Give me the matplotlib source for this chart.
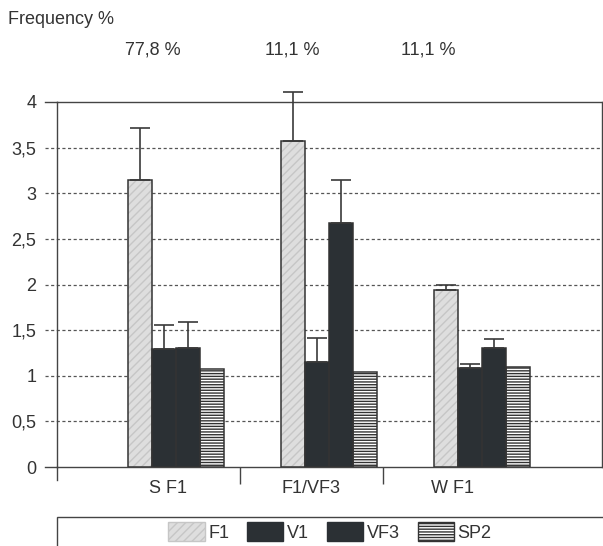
import numpy as np
import matplotlib
matplotlib.use("Agg")
import matplotlib.pyplot as plt
from matplotlib.patches import Patch, Rectangle
from matplotlib.transforms import blended_transform_factory

plt.rcParams["font.family"] = ["Liberation Sans", "DejaVu Sans"]

groups = ["S F1", "F1/VF3", "W F1"]
group_pct = ["77,8 %", "11,1 %", "11,1 %"]
series = ["F1", "V1", "VF3", "SP2"]
means = {
    "F1": [3.15, 3.57, 1.94],
    "V1": [1.29, 1.15, 1.09],
    "VF3": [1.30, 2.67, 1.30],
    "SP2": [1.07, 1.04, 1.10],
}
upper_err = {
    "F1": [0.57, 0.54, 0.06],
    "V1": [0.27, 0.26, 0.04],
    "VF3": [0.29, 0.48, 0.10],
    "SP2": [0.0, 0.0, 0.0],
}
yticks = [0, 0.5, 1, 1.5, 2, 2.5, 3, 3.5, 4]
ytick_labels = ["0", "0,5", "1", "1,5", "2", "2,5", "3", "3,5", "4"]

# scan is slightly off: labels/ticks sit left of bar groups
label_pos = [-0.05, 0.88, 1.81]
pct_pos = [-0.15, 0.76, 1.65]
tick_pos = [0.42, 1.35]

style = {
    "F1": dict(face="#dedede", hatch="////", hcol="#c6c6c6"),
    "V1": dict(face="#2b3034", hatch=None, hcol="#2b3034"),
    "VF3": dict(face="#2b3034", hatch=None, hcol="#2b3034"),
    "SP2": dict(face="white", hatch="------", hcol="#333333"),
}
EDGE = "#333333"
FS = 13

fig = plt.figure(figsize=(6.03, 5.46), dpi=100, facecolor="white")
ax = fig.add_axes([57 / 603, 1 - 467 / 546, 545 / 603, 365 / 546])

x = np.arange(len(groups))
w = 0.157
for i, s in enumerate(series):
    xs = x + (i - 1.5) * w
    st = style[s]
    ax.bar(xs, means[s], w, color=st["face"], hatch=st["hatch"],
           edgecolor=st["hcol"], linewidth=0, zorder=3)
    ax.bar(xs, means[s], w, fill=False, edgecolor=EDGE, linewidth=1.1, zorder=4)
    err = np.array(upper_err[s])
    if err.any():
        eb = ax.errorbar(xs, means[s], yerr=[np.zeros_like(err), err], fmt="none",
                         ecolor="#3a3a3a", elinewidth=1.2, capsize=7, capthick=1.2,
                         zorder=5)
        for art in eb.lines[1] + eb.lines[2]:
            art.set_clip_on(False)

ax.set_xlim(-0.778, 2.784)
ax.set_ylim(0, 4)

# grid: dashed lines poking left of the axis like the original
for yv in yticks:
    if yv in (0, 4):
        ax.plot([-0.022, 0], [yv, yv], transform=ax.get_yaxis_transform(),
                color="#444444", lw=1.0, clip_on=False, zorder=2)
    else:
        ax.plot([-0.022, 1], [yv, yv], transform=ax.get_yaxis_transform(),
                color="#555555", lw=0.9, ls=(0, (2.5, 2)), clip_on=False, zorder=1)

ax.set_yticks(yticks)
ax.set_yticklabels(ytick_labels, fontsize=FS, color="#333333")
ax.tick_params(axis="y", length=0, pad=15)
ax.set_xticks(tick_pos)
ax.set_xticklabels([])
ax.tick_params(axis="x", length=12, width=1.0, color="#444444", direction="out")
ax.plot([0, 0], [0, -0.035], transform=ax.transAxes, color="#444444",
        lw=1.0, clip_on=False)

for sp in ax.spines.values():
    sp.set_color("#444444")
    sp.set_linewidth(1.0)

for p, g in zip(label_pos, groups):
    ax.text(p, -0.058, g, transform=ax.get_xaxis_transform(), ha="center",
            va="center", fontsize=FS, color="#333333")

pct_tr = blended_transform_factory(ax.transData, fig.transFigure)
for p, t in zip(pct_pos, group_pct):
    ax.text(p, 1 - 50 / 546, t, transform=pct_tr, ha="center", va="center",
            fontsize=FS, color="#333333")

fig.text(8 / 603, 1 - 20 / 546, "Frequency %", ha="left", va="center",
         fontsize=FS, color="#333333")

# legend box (runs off the bottom/right edge in the scan)
fig.patches.append(Rectangle((57 / 603, -0.05), 0.95, 0.05 + 29 / 546,
                             transform=fig.transFigure, fill=False,
                             edgecolor="#444444", lw=1.0))
handles = [Patch(facecolor=style[s]["face"], hatch=style[s]["hatch"],
                 edgecolor=style[s]["hcol"] if s != "SP2" else "#333333", label=s)
           for s in series]
fig.legend(handles=handles, loc="center", bbox_to_anchor=(330 / 603, 1 - 532 / 546),
           ncol=4, frameon=False, fontsize=FS, handlelength=2.0, handleheight=1.2,
           handletextpad=0.2, columnspacing=1.0, labelcolor="#333333")

fig.savefig("out.png", dpi=100, facecolor="white")
